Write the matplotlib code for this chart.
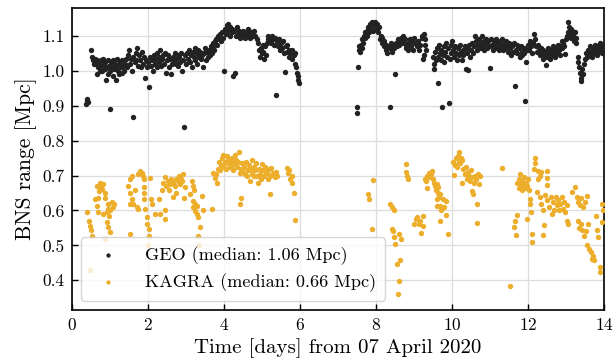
import matplotlib
matplotlib.use("Agg")
import matplotlib.pyplot as plt

# ---- data (day since 07 April 2020, BNS range in Mpc) ----
geo_obs = [
    (0.37, 0.905), (0.39, 0.915), (0.40, 0.92), (0.42, 0.912),
    (0.50, 1.06), (0.52, 1.04), (0.55, 1.03), (0.57, 1.02), (0.60, 1.035), (0.63, 1.02),
    (0.65, 0.99), (0.67, 1.03), (0.70, 1.01), (0.72, 1.025), (0.74, 1.00), (0.76, 1.03),
    (0.78, 1.015), (0.80, 1.00), (0.82, 1.035), (0.84, 1.02), (0.86, 1.005), (0.88, 1.025),
    (0.90, 0.975), (0.92, 1.01), (0.94, 0.99), (0.96, 1.03), (0.98, 1.015), (1.00, 0.89),
    (1.01, 1.00), (1.03, 1.025), (1.05, 1.01), (1.07, 0.985), (1.09, 1.03), (1.11, 1.005),
    (1.13, 1.02), (1.15, 0.975), (1.17, 1.01), (1.19, 1.035), (1.21, 1.00), (1.23, 1.02),
    (1.25, 0.99), (1.27, 1.025), (1.29, 1.01), (1.31, 0.995), (1.33, 1.03), (1.35, 1.015),
    (1.37, 1.00), (1.40, 1.02), (1.43, 1.035), (1.46, 1.01),
    (1.48, 1.045), (1.50, 1.06), (1.52, 1.02), (1.55, 1.035), (1.58, 1.00), (1.60, 0.868),
    (1.62, 1.04), (1.65, 1.025), (1.68, 1.05), (1.70, 1.03), (1.72, 1.065), (1.75, 1.015),
    (1.77, 1.045), (1.80, 1.03), (1.82, 1.01), (1.85, 1.055), (1.88, 1.02), (1.90, 1.04),
    (1.92, 0.98), (1.95, 1.03), (1.97, 1.01), (2.00, 1.025), (2.03, 0.955), (2.05, 1.04),
    (2.08, 1.015),
    (2.10, 1.03), (2.13, 1.00), (2.15, 1.045), (2.18, 1.02), (2.20, 1.035), (2.23, 1.01),
    (2.25, 1.05), (2.28, 1.025), (2.30, 1.04), (2.33, 1.06), (2.35, 1.015), (2.38, 1.035),
    (2.40, 1.045), (2.43, 1.02), (2.45, 1.05), (2.48, 0.995), (2.50, 1.03), (2.53, 1.045),
    (2.55, 1.01), (2.58, 1.035), (2.60, 0.99), (2.63, 1.02), (2.65, 1.04), (2.68, 1.03),
    (2.70, 1.05), (2.73, 1.02), (2.75, 1.035), (2.78, 1.045), (2.80, 1.015), (2.83, 1.04),
    (2.85, 1.025), (2.88, 1.05), (2.90, 1.00), (2.93, 1.03), (2.96, 0.84), (2.98, 1.045),
    (3.00, 1.02), (3.03, 1.05), (3.05, 1.035), (3.08, 1.06), (3.10, 1.025), (3.13, 1.045),
    (3.15, 1.01), (3.18, 1.055), (3.20, 1.04), (3.23, 1.065), (3.25, 1.03), (3.28, 1.05),
    (3.30, 1.02), (3.33, 1.06), (3.35, 1.04), (3.38, 1.055), (3.40, 1.035), (3.43, 1.045),
    (3.45, 1.01), (3.48, 1.05), (3.50, 1.065), (3.53, 1.03), (3.55, 1.055), (3.58, 1.04),
    (3.60, 1.06), (3.63, 1.045), (3.65, 1.07), (3.68, 1.05),
    (3.70, 1.065), (3.72, 1.08), (3.75, 1.06), (3.77, 1.085), (3.80, 1.09), (3.82, 1.075),
    (3.85, 1.10), (3.87, 1.09), (3.90, 1.105), (3.92, 1.085), (3.95, 1.11), (3.98, 1.095),
    (4.00, 1.00), (4.02, 1.12), (4.05, 1.105), (4.07, 1.13), (4.10, 1.135), (4.12, 1.115),
    (4.15, 1.125), (4.17, 1.10), (4.20, 1.12), (4.22, 1.11), (4.25, 0.985), (4.27, 1.115),
    (4.30, 0.995), (4.32, 1.10), (4.35, 1.125), (4.37, 1.105), (4.40, 1.115), (4.43, 1.095),
    (4.45, 1.11), (4.48, 1.10),
    (4.50, 1.115), (4.53, 1.105), (4.55, 1.095), (4.58, 1.11), (4.60, 1.10), (4.63, 1.12),
    (4.65, 1.105), (4.68, 1.095), (4.70, 1.11), (4.73, 1.10), (4.76, 1.10), (4.80, 1.115),
    (4.83, 1.10), (4.86, 1.09), (4.90, 1.08), (4.92, 1.06), (4.95, 1.04), (4.97, 1.065),
    (5.00, 1.05), (5.02, 1.075), (5.04, 1.055), (5.06, 1.035), (5.08, 1.07), (5.10, 1.045),
    (5.12, 1.08), (5.15, 1.09), (5.17, 1.10), (5.20, 1.085), (5.22, 1.095), (5.25, 1.08),
    (5.27, 1.10), (5.30, 1.09), (5.32, 1.075), (5.35, 1.095), (5.38, 0.93), (5.40, 1.085),
    (5.42, 1.07), (5.45, 1.09), (5.47, 1.06), (5.50, 1.08), (5.52, 1.065), (5.55, 1.085),
    (5.57, 1.05), (5.60, 0.997), (5.62, 1.07), (5.65, 1.055), (5.67, 1.075), (5.70, 1.04),
    (5.72, 1.06), (5.75, 1.05), (5.78, 1.035), (5.80, 1.06), (5.83, 1.045), (5.86, 1.05),
    (5.88, 1.02), (5.90, 1.01), (5.92, 0.995), (5.94, 0.985), (5.96, 0.975), (5.97, 0.965),
    (7.50, 0.895), (7.51, 0.88), (7.53, 1.01), (7.55, 1.06), (7.56, 1.07), (7.58, 1.055),
    (7.60, 1.075), (7.62, 1.065), (7.64, 1.09), (7.66, 1.08), (7.68, 1.10), (7.70, 1.11),
    (7.72, 1.095), (7.75, 1.115), (7.77, 1.10), (7.80, 1.125), (7.82, 1.11), (7.85, 1.135),
    (7.87, 1.12), (7.90, 1.14), (7.92, 1.115), (7.95, 1.13), (7.97, 1.14), (8.00, 1.12),
    (8.02, 1.135), (8.05, 1.11), (8.07, 1.125),
    (8.10, 1.09), (8.12, 1.10), (8.15, 1.08), (8.17, 1.095), (8.20, 1.07), (8.22, 1.085),
    (8.25, 1.06), (8.27, 1.075), (8.30, 1.05), (8.33, 1.07), (8.36, 0.897), (8.38, 1.065),
    (8.40, 1.08), (8.42, 1.055), (8.45, 1.075), (8.48, 1.065), (8.50, 0.99), (8.52, 1.08),
    (8.55, 1.07), (8.57, 1.09), (8.60, 1.075), (8.62, 1.085), (8.65, 1.095), (8.67, 1.08),
    (8.70, 1.10), (8.72, 1.085), (8.75, 1.09), (8.78, 1.075),
    (8.80, 1.065), (8.83, 1.08), (8.85, 1.06), (8.88, 1.075), (8.90, 1.09), (8.93, 1.07),
    (8.95, 1.085), (8.98, 1.06), (9.00, 1.095), (9.03, 1.08), (9.07, 1.07), (9.10, 1.085),
    (9.13, 1.06), (9.16, 1.075), (9.20, 1.10), (9.22, 1.095), (9.25, 1.105), (9.28, 1.09),
    (9.30, 1.075), (9.32, 1.06), (9.27, 1.045), (9.24, 1.035),
    (9.50, 1.04), (9.52, 1.02), (9.53, 1.005), (9.55, 1.055), (9.57, 1.03), (9.60, 1.065),
    (9.62, 1.04), (9.64, 0.966), (9.66, 1.075), (9.68, 1.05), (9.70, 1.03), (9.72, 1.06),
    (9.74, 0.897), (9.76, 1.045), (9.78, 1.07), (9.80, 1.025), (9.82, 1.055), (9.85, 1.08),
    (9.87, 1.04), (9.90, 1.065), (9.92, 0.908), (9.94, 1.035), (9.96, 1.075), (9.98, 1.05),
    (10.00, 1.085), (10.03, 1.06), (10.05, 1.04), (10.08, 1.07), (10.10, 1.05), (10.13, 1.03),
    (10.15, 1.065), (10.18, 1.045), (10.20, 1.075), (10.23, 1.055), (10.25, 1.03), (10.28, 1.06),
    (10.30, 1.045), (10.33, 1.07), (10.36, 1.005), (10.38, 1.05), (10.40, 1.065), (10.42, 1.002),
    (10.45, 1.075), (10.47, 1.04), (10.50, 1.06), (10.53, 1.08), (10.55, 1.05), (10.58, 1.07),
    (10.60, 1.10), (10.62, 1.085), (10.65, 1.06), (10.68, 1.075), (10.70, 1.09), (10.73, 1.065),
    (10.75, 1.08), (10.78, 1.10), (10.80, 1.07), (10.83, 1.085), (10.85, 1.06), (10.88, 1.09),
    (10.90, 1.075), (10.93, 1.065), (10.95, 1.085), (10.99, 1.009),
    (11.00, 1.07), (11.03, 1.09), (11.05, 1.075), (11.08, 1.06), (11.10, 1.085), (11.13, 1.07),
    (11.15, 1.09), (11.18, 1.065), (11.20, 1.08), (11.23, 1.06), (11.25, 1.085), (11.28, 1.07),
    (11.30, 1.09), (11.33, 1.075), (11.35, 1.06), (11.38, 1.08), (11.40, 1.065), (11.43, 1.085),
    (11.45, 1.07), (11.48, 1.055), (11.50, 1.08), (11.53, 1.065), (11.55, 1.045), (11.58, 1.07),
    (11.60, 1.055), (11.62, 1.08), (11.65, 0.957), (11.67, 1.06), (11.70, 1.075), (11.72, 1.05),
    (11.75, 1.065), (11.78, 1.04), (11.80, 1.07), (11.83, 1.055), (11.85, 1.045), (11.88, 1.065),
    (11.90, 1.05), (11.93, 0.914), (11.94, 1.025), (11.97, 1.06),
    (12.00, 1.075), (12.03, 1.06), (12.05, 1.085), (12.08, 1.07), (12.10, 1.05), (12.13, 1.08),
    (12.16, 1.105), (12.18, 1.09), (12.20, 1.07), (12.23, 1.055), (12.25, 1.075), (12.28, 1.06),
    (12.30, 1.045), (12.33, 1.065), (12.35, 1.05), (12.38, 1.035), (12.40, 1.06), (12.43, 1.045),
    (12.46, 1.017), (12.48, 1.055), (12.50, 1.04), (12.53, 1.065), (12.55, 1.05), (12.58, 1.035),
    (12.60, 1.06), (12.63, 1.045), (12.65, 1.07), (12.68, 1.055), (12.70, 1.04), (12.73, 1.065),
    (12.75, 1.05), (12.78, 1.075), (12.80, 1.06), (12.83, 1.045), (12.85, 1.07), (12.88, 1.085),
    (12.90, 1.065), (12.93, 1.08), (12.95, 1.07), (12.98, 1.047),
    (13.00, 1.09), (13.02, 1.10), (13.04, 1.14), (13.06, 1.11), (13.08, 1.125), (13.10, 1.105),
    (13.12, 1.12), (13.14, 1.095), (13.16, 1.115), (13.18, 1.10), (13.20, 1.085), (13.22, 1.11),
    (13.25, 1.095), (13.27, 1.08), (13.30, 1.04), (13.32, 1.025), (13.34, 1.01), (13.36, 0.995),
    (13.38, 0.98), (13.40, 0.97), (13.42, 1.005), (13.44, 0.99), (13.46, 1.02),
    (13.50, 1.035), (13.53, 1.05), (13.55, 1.04), (13.58, 1.06), (13.60, 1.045), (13.63, 1.07),
    (13.65, 1.055), (13.68, 1.04), (13.70, 1.065), (13.73, 1.05), (13.75, 1.075), (13.78, 1.06),
    (13.80, 1.045), (13.83, 1.07), (13.85, 1.055), (13.88, 1.08), (13.90, 1.065), (13.93, 1.05),
    (13.95, 1.075), (13.98, 1.06),
]

kagra_obs = [
    (0.39, 0.596), (0.45, 0.571), (0.48, 0.555), (0.50, 0.543), (0.53, 0.528), (0.48, 0.429),
    (0.61, 0.632), (0.66, 0.670), (0.66, 0.614), (0.70, 0.637), (0.70, 0.595), (0.72, 0.655),
    (0.75, 0.680), (0.77, 0.665), (0.79, 0.661), (0.83, 0.675), (0.83, 0.590), (0.86, 0.650),
    (0.88, 0.637), (0.88, 0.519), (0.92, 0.595), (0.92, 0.566), (0.94, 0.620), (0.96, 0.604),
    (0.96, 0.552), (0.98, 0.585), (1.01, 0.600), (1.01, 0.538), (1.05, 0.623), (1.08, 0.610),
    (1.10, 0.618),
    (1.49, 0.670), (1.52, 0.690), (1.54, 0.651), (1.54, 0.618), (1.54, 0.533), (1.58, 0.633),
    (1.58, 0.699), (1.62, 0.618), (1.65, 0.660), (1.71, 0.609), (1.75, 0.604), (1.75, 0.704),
    (1.80, 0.713), (1.84, 0.708), (1.86, 0.700), (1.89, 0.690), (1.89, 0.666), (1.91, 0.651),
    (1.89, 0.633), (1.93, 0.604), (1.97, 0.580), (1.97, 0.562), (2.02, 0.547), (2.02, 0.528),
    (2.00, 0.500),
    (2.06, 0.694), (2.09, 0.633), (2.12, 0.620), (2.20, 0.590), (2.28, 0.633), (2.32, 0.590),
    (2.36, 0.660), (2.40, 0.680), (2.44, 0.695), (2.46, 0.600), (2.46, 0.576), (2.48, 0.670),
    (2.52, 0.685), (2.55, 0.660), (2.58, 0.675), (2.62, 0.690), (2.65, 0.640), (2.67, 0.680),
    (2.70, 0.670), (2.73, 0.690), (2.75, 0.650), (2.78, 0.685), (2.82, 0.700), (2.85, 0.675),
    (2.86, 0.690), (2.89, 0.685), (2.93, 0.704), (2.95, 0.637), (2.97, 0.666),
    (3.11, 0.647), (3.15, 0.685), (3.19, 0.670), (3.19, 0.628), (3.19, 0.609), (3.22, 0.660),
    (3.24, 0.618), (3.24, 0.599), (3.28, 0.614), (3.28, 0.590), (3.32, 0.580), (3.37, 0.552),
    (3.32, 0.528), (3.35, 0.500), (3.41, 0.642), (3.45, 0.600),
    (3.68, 0.604), (3.72, 0.708), (3.76, 0.694), (3.81, 0.680), (3.78, 0.705),
    (3.85, 0.720), (3.87, 0.740), (3.90, 0.715), (3.92, 0.730), (3.95, 0.750), (3.98, 0.760),
    (4.00, 0.725), (4.02, 0.740), (4.05, 0.718), (4.07, 0.756), (4.10, 0.735), (4.12, 0.745),
    (4.15, 0.725), (4.17, 0.740), (4.20, 0.730), (4.22, 0.750), (4.25, 0.715), (4.27, 0.735),
    (4.29, 0.760), (4.32, 0.745), (4.35, 0.725), (4.38, 0.740), (4.40, 0.767), (4.42, 0.708),
    (4.46, 0.637), (4.42, 0.618),
    (4.45, 0.720), (4.48, 0.735), (4.50, 0.710), (4.53, 0.725), (4.55, 0.705), (4.58, 0.740),
    (4.60, 0.699), (4.63, 0.715), (4.65, 0.730), (4.68, 0.685), (4.70, 0.720), (4.73, 0.746),
    (4.75, 0.705), (4.78, 0.725), (4.80, 0.700), (4.83, 0.715), (4.85, 0.735), (4.88, 0.700),
    (4.90, 0.680), (4.92, 0.720), (4.95, 0.705), (4.97, 0.690), (4.99, 0.732), (5.02, 0.715),
    (5.05, 0.700), (5.07, 0.725), (5.10, 0.710), (5.12, 0.708), (5.15, 0.690), (5.18, 0.720),
    (5.21, 0.647), (5.22, 0.700), (5.25, 0.722), (5.28, 0.705), (5.30, 0.708), (5.33, 0.695),
    (5.36, 0.710), (5.40, 0.700),
    (5.65, 0.722), (5.69, 0.708), (5.72, 0.715), (5.75, 0.690), (5.78, 0.700), (5.80, 0.680),
    (5.84, 0.650), (5.88, 0.572),
    (7.80, 0.647), (7.82, 0.633), (7.91, 0.686), (7.90, 0.547),
    (8.37, 0.620), (8.41, 0.610), (8.46, 0.600), (8.41, 0.548), (8.44, 0.540), (8.47, 0.525),
    (8.50, 0.505), (8.61, 0.533), (8.65, 0.517), (8.54, 0.448), (8.63, 0.458), (8.61, 0.398),
    (8.59, 0.361),
    (8.80, 0.732), (8.78, 0.710), (8.81, 0.699), (8.85, 0.691),
    (9.00, 0.562), (9.04, 0.575), (9.07, 0.580), (9.12, 0.560), (9.16, 0.571), (9.18, 0.535),
    (9.23, 0.585), (9.23, 0.555),
    (9.30, 0.690), (9.32, 0.685), (9.35, 0.700), (9.38, 0.708), (9.40, 0.695), (9.42, 0.699),
    (9.45, 0.705), (9.47, 0.713), (9.33, 0.663), (9.50, 0.690), (9.53, 0.680), (9.55, 0.670),
    (9.58, 0.660), (9.60, 0.675), (9.62, 0.650), (9.64, 0.666), (9.66, 0.640), (9.69, 0.647),
    (9.60, 0.634), (9.77, 0.633), (9.68, 0.614), (9.84, 0.628), (9.61, 0.614), (9.72, 0.600),
    (9.80, 0.610), (9.68, 0.571), (9.84, 0.587), (9.88, 0.533),
    (10.03, 0.740), (10.05, 0.701), (10.07, 0.730), (10.10, 0.750), (10.12, 0.725), (10.15, 0.755),
    (10.17, 0.740), (10.19, 0.767), (10.21, 0.735), (10.23, 0.751), (10.25, 0.680), (10.27, 0.745),
    (10.30, 0.720),
    (10.34, 0.705), (10.37, 0.725), (10.40, 0.690), (10.42, 0.710), (10.45, 0.700), (10.48, 0.685),
    (10.50, 0.715), (10.52, 0.657), (10.54, 0.695), (10.56, 0.647), (10.58, 0.680), (10.61, 0.700),
    (10.64, 0.690), (10.67, 0.705), (10.70, 0.675), (10.73, 0.700), (10.65, 0.619), (10.65, 0.565),
    (11.32, 0.721), (11.53, 0.385),
    (11.70, 0.586), (11.66, 0.571), (11.64, 0.552), (11.68, 0.531),
    (11.72, 0.680), (11.75, 0.665), (11.77, 0.690), (11.79, 0.704), (11.80, 0.675), (11.83, 0.660),
    (11.85, 0.685), (11.87, 0.670), (11.90, 0.695), (11.92, 0.665), (11.95, 0.680), (11.97, 0.670),
    (12.00, 0.690), (12.02, 0.660),
    (12.04, 0.633), (12.05, 0.619), (12.07, 0.595), (11.96, 0.576), (12.10, 0.534), (12.11, 0.510),
    (12.19, 0.751), (12.18, 0.735), (12.16, 0.718), (12.27, 0.713), (12.25, 0.690), (12.23, 0.652),
    (12.32, 0.700), (12.35, 0.710),
    (12.49, 0.713), (12.49, 0.693), (12.49, 0.673),
    (12.30, 0.640), (12.35, 0.620), (12.40, 0.600), (12.45, 0.645), (12.50, 0.630), (12.55, 0.610),
    (12.60, 0.640), (12.62, 0.590), (12.65, 0.625), (12.68, 0.600),
    (12.43, 0.559), (12.40, 0.529),
    (12.72, 0.640), (12.75, 0.615), (12.78, 0.630), (12.82, 0.600), (12.85, 0.620), (12.88, 0.640),
    (12.92, 0.605), (12.95, 0.625), (12.98, 0.595), (13.02, 0.615),
    (13.02, 0.571), (13.06, 0.562),
    (13.24, 0.666), (13.15, 0.652), (13.28, 0.640), (13.32, 0.625), (13.36, 0.615), (13.40, 0.635),
    (13.45, 0.610), (13.50, 0.625), (13.54, 0.642),
    (13.30, 0.570), (13.34, 0.550), (13.38, 0.560), (13.42, 0.545), (13.48, 0.527), (13.52, 0.540),
    (13.58, 0.560),
    (13.56, 0.500), (13.60, 0.490), (13.65, 0.480), (13.70, 0.470), (13.72, 0.458), (13.68, 0.462),
    (13.79, 0.585), (13.81, 0.545), (13.85, 0.524), (13.88, 0.439), (13.90, 0.423), (13.94, 0.619),
    (13.94, 0.567), (13.97, 0.600),
]

geo_label = "GEO (median: 1.06 Mpc)"
kagra_label = "KAGRA (median: 0.66 Mpc)"
x_ticks = [0, 2, 4, 6, 8, 10, 12, 14]
y_ticks = [0.4, 0.5, 0.6, 0.7, 0.8, 0.9, 1.0, 1.1]

geo_days = [p[0] for p in geo_obs]
geo_mpc = [p[1] for p in geo_obs]
kagra_days = [p[0] for p in kagra_obs]
kagra_mpc = [p[1] for p in kagra_obs]

plt.rcParams["font.family"] = "serif"
plt.rcParams["font.serif"] = ["cmr10"]
plt.rcParams["mathtext.fontset"] = "cm"
plt.rcParams["axes.formatter.use_mathtext"] = True

fig = plt.figure(figsize=(6.14, 3.63), dpi=100)
ax = fig.add_axes([0.117, 0.146, 0.867, 0.832])

geo_color = "#222222"
kagra_color = "#ecae2b"

ax.scatter(geo_days, geo_mpc, s=15, color=geo_color, linewidths=0, label=geo_label, zorder=3)
ax.scatter(kagra_days, kagra_mpc, s=15, color=kagra_color, linewidths=0, label=kagra_label, zorder=3)

ax.set_xlim(0, 14)
ax.set_ylim(0.315, 1.18)
ax.set_xticks(x_ticks)
ax.set_yticks(y_ticks)
ax.set_yticklabels([f"{v:.1f}" for v in y_ticks])
ax.grid(True, color="#dddddd", linewidth=0.9, zorder=0)
ax.set_axisbelow(True)
ax.tick_params(direction="in", labelsize=12.5, length=4, width=1.0, pad=5)
for sp in ax.spines.values():
    sp.set_linewidth(1.2)
    sp.set_color("black")

ax.set_xlabel("Time [days] from 07 April 2020", fontsize=15)
ax.set_ylabel("BNS range [Mpc]", fontsize=15.5)

leg = ax.legend(loc="lower left", fontsize=13.1, frameon=True, framealpha=0.8,
                edgecolor="#cccccc", fancybox=True, handletextpad=1.0,
                borderpad=0.5, labelspacing=0.45, handlelength=2.0, markerscale=0.8)
leg.set_zorder(5)

fig.savefig("out.png", dpi=100)
